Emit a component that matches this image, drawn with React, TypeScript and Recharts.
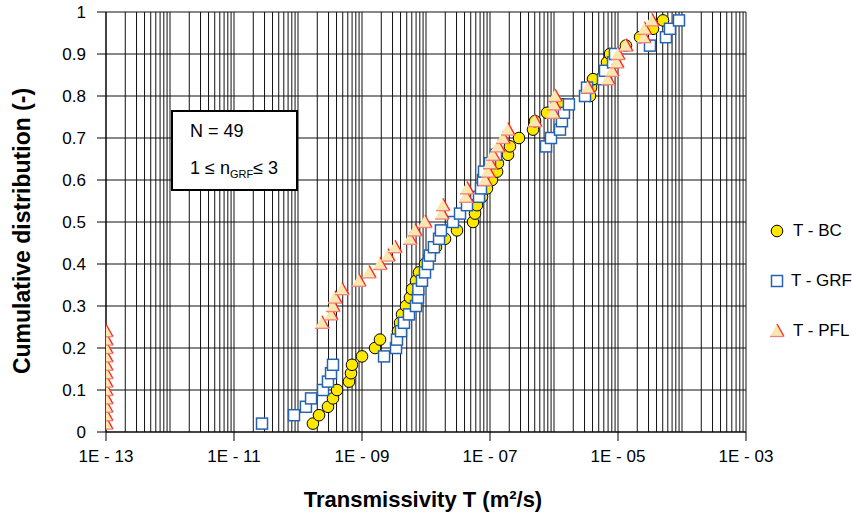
import React from "react";
import {
  CartesianGrid,
  Label,
  Legend,
  Scatter,
  ScatterChart,
  XAxis,
  YAxis,
} from "recharts";

// cumulative fraction (rank / (N + 1)), N = 49
const cumFraction = [
  0.02, 0.04, 0.06, 0.08, 0.1, 0.12, 0.14, 0.16, 0.18, 0.2,
  0.22, 0.24, 0.26, 0.28, 0.3, 0.32, 0.34, 0.36, 0.38, 0.4,
  0.42, 0.44, 0.46, 0.48, 0.5, 0.52, 0.54, 0.56, 0.58, 0.6,
  0.62, 0.64, 0.66, 0.68, 0.7, 0.72, 0.74, 0.76, 0.78, 0.8,
  0.82, 0.84, 0.86, 0.88, 0.9, 0.92, 0.94, 0.96, 0.98,
];

// transmissivity values (m2/s), sorted
const tBC = [
  1.71e-10, 2.13e-10, 2.94e-10, 3.52e-10, 4.07e-10, 6.26e-10, 6.73e-10, 6.98e-10, 1.0e-9, 1.6e-9,
  1.91e-9, 3.65e-9, 3.93e-9, 4.22e-9, 4.87e-9, 5.62e-9, 6.04e-9, 6.98e-9, 7.78e-9, 9.65e-9,
  1.15e-8, 1.43e-8, 1.98e-8, 3.05e-8, 5.42e-8, 5.83e-8, 6.26e-8, 7.5e-8, 8.97e-8, 1.07e-7,
  1.29e-7, 1.33e-7, 1.91e-7, 2.05e-7, 2.84e-7, 4.7e-7, 5.05e-7, 7.78e-7, 1.38e-6, 3.65e-6,
  3.79e-6, 4.07e-6, 6.26e-6, 6.73e-6, 7.5e-6, 1.33e-5, 2.21e-5, 3.52e-5, 5.05e-5,
];

const tGRF = [
  2.74e-11, 8.66e-11, 1.33e-10, 1.6e-10, 2.46e-10, 2.94e-10, 3.28e-10, 3.52e-10, 2.21e-9, 3.4e-9,
  3.52e-9, 4.07e-9, 4.53e-9, 5.42e-9, 6.98e-9, 7.5e-9, 7.6e-9, 8.66e-9, 9.65e-9, 1.07e-8,
  1.15e-8, 1.33e-8, 1.6e-8, 1.71e-8, 2.64e-8, 3.4e-8, 4.37e-8, 6.73e-8, 7.23e-8, 7.78e-8,
  8.06e-8, 1.0e-7, 1.24e-7, 7.5e-7, 8.97e-7, 1.24e-6, 1.33e-6, 1.43e-6, 1.71e-6, 3.05e-6,
  3.28e-6, 5.83e-6, 6.26e-6, 8.36e-6, 8.97e-6, 3.16e-5, 5.62e-5, 6.49e-5, 8.97e-5,
];

const tPFL = [
  1e-13, 1e-13, 1e-13, 1e-13, 1e-13, 1e-13, 1e-13, 1e-13, 1e-13, 1e-13,
  1e-13, 1e-13, 2.37e-10, 3.28e-10, 3.52e-10, 3.79e-10, 4.87e-10, 8.97e-10, 1.29e-9, 1.91e-9,
  2.55e-9, 3.28e-9, 5.62e-9, 6.73e-9, 9.65e-9, 1.78e-8, 1.84e-8, 4.22e-8, 4.37e-8, 8.36e-8,
  9.31e-8, 1.0e-7, 1.11e-7, 1.33e-7, 1.6e-7, 1.91e-7, 5.05e-7, 9.65e-7, 1.0e-6, 1.04e-6,
  3.4e-6, 6.98e-6, 8.06e-6, 9.65e-6, 1.0e-5, 1.33e-5, 2.55e-5, 2.6e-5, 3.4e-5,
];

const xLabelTicks = [1e-13, 1e-11, 1e-9, 1e-7, 1e-5, 1e-3];
const yTicks = [0, 0.1, 0.2, 0.3, 0.4, 0.5, 0.6, 0.7, 0.8, 0.9, 1];

// log grid: 1..9 x 10^n
const gridDecades = [-13, -12, -11, -10, -9, -8, -7, -6, -5, -4];
const gridMantissas = [1, 2, 3, 4, 5, 6, 7, 8, 9];
const xGridValues = [
  ...gridDecades.flatMap((d) => gridMantissas.map((m) => Number(`${m}e${d}`))),
  1e-3,
];

const toPoints = (values: number[]) =>
  values.map((t, i) => ({ t, p: cumFraction[i] }));

const FONT = '"Liberation Sans", Arial, sans-serif';

const CircleMark = ({ cx, cy }: any) => (
  <circle cx={cx} cy={cy} r={5.8} fill="#FFE800" stroke="#000" strokeWidth={1} />
);

const SquareMark = ({ cx, cy }: any) => (
  <rect
    x={cx - 5.5}
    y={cy - 5.5}
    width={11}
    height={11}
    fill="#fff"
    stroke="#2463B0"
    strokeWidth={1.5}
  />
);

const TriangleMark = ({ cx, cy }: any) => (
  <g>
    <path
      d={`M${cx},${cy - 7} L${cx + 7},${cy + 5.5} L${cx - 7},${cy + 5.5} Z`}
      fill="#FAE7B0"
    />
    <path
      d={`M${cx},${cy - 7} L${cx + 7},${cy + 5.5}`}
      fill="none"
      stroke="#FF2020"
      strokeWidth={1.3}
    />
    <path
      d={`M${cx + 7},${cy + 5.5} L${cx - 7},${cy + 5.5}`}
      fill="none"
      stroke="#F28080"
      strokeWidth={1.3}
    />
  </g>
);

const legendItems = [
  { name: "T - BC", Mark: CircleMark },
  { name: "T - GRF", Mark: SquareMark },
  { name: "T - PFL", Mark: TriangleMark },
];

const renderLegend = () => (
  <div style={{ fontFamily: FONT }}>
    {legendItems.map(({ name, Mark }) => (
      <div
        key={name}
        style={{ display: "flex", alignItems: "center", height: 50, whiteSpace: "nowrap" }}
      >
        <svg width={20} height={20}>
          <Mark cx={10} cy={10} />
        </svg>
        <span style={{ marginLeft: 6, fontSize: 17, color: "#000" }}>
          {name}
        </span>
      </div>
    ))}
  </div>
);

const formatX = (v: number) => {
  const e = Math.round(Math.log10(v));
  return `1E - ${String(Math.abs(e)).padStart(2, "0")}`;
};

const formatY = (v: number) => String(Number(v.toFixed(1)));

const YTitle = ({ viewBox }: any) => {
  const cx = 22;
  const cy = viewBox.y + viewBox.height / 2 + 9;
  return (
    <text
      x={cx}
      y={cy}
      transform={`rotate(-90, ${cx}, ${cy})`}
      textAnchor="middle"
      dominantBaseline="central"
      fontFamily={FONT}
      fontWeight="bold"
      fontSize={23}
      fill="#000"
    >
      Cumulative distribution (-)
    </text>
  );
};

const XTitle = ({ viewBox }: any) => (
  <text
    x={viewBox.x + viewBox.width / 2 - 3}
    y={507}
    textAnchor="middle"
    fontFamily={FONT}
    fontWeight="bold"
    fontSize={22}
    fill="#000"
  >
    Transmissivity T (m²/s)
  </text>
);

export default function App() {
  return (
    <div
      style={{
        position: "absolute",
        left: 0,
        top: 0,
        width: 852,
        height: 515,
        background: "#fff",
        fontFamily: FONT,
      }}
    >
      <ScatterChart
        width={852}
        height={515}
        margin={{ top: 12, right: 106, bottom: 0, left: 0 }}
      >
        <CartesianGrid
          xAxisId="grid"
          stroke="#111"
          strokeWidth={1}
          horizontal={false}
        />
        <CartesianGrid stroke="#111" strokeWidth={1} vertical={false} />
        <XAxis
          xAxisId="grid"
          dataKey="t"
          type="number"
          scale="log"
          domain={[1e-13, 1e-3]}
          allowDataOverflow
          ticks={xGridValues}
          interval={0}
          hide
        />
        <XAxis
          dataKey="t"
          type="number"
          scale="log"
          domain={[1e-13, 1e-3]}
          allowDataOverflow
          ticks={xLabelTicks}
          interval={0}
          tickFormatter={formatX}
          height={83}
          tickSize={9}
          tickMargin={9}
          stroke="#000"
          tick={{ fill: "#000", fontSize: 17, fontFamily: FONT }}
        >
          <Label content={XTitle} />
        </XAxis>
        <YAxis
          dataKey="p"
          type="number"
          domain={[0, 1]}
          ticks={yTicks}
          interval={0}
          tickFormatter={formatY}
          width={106}
          tickSize={9}
          tickMargin={11}
          stroke="#000"
          tick={{ fill: "#000", fontSize: 17, fontFamily: FONT }}
        >
          <Label content={YTitle} />
        </YAxis>
        <Legend
          layout="vertical"
          align="center"
          verticalAlign="middle"
          content={renderLegend}
          wrapperStyle={{ left: 767, top: 206, width: 85 }}
        />
        <Scatter
          name="T-BC"
          data={toPoints(tBC)}
          shape={CircleMark}
          isAnimationActive={false}
        />
        <Scatter
          name="T-GRF"
          data={toPoints(tGRF)}
          shape={SquareMark}
          isAnimationActive={false}
        />
        <Scatter
          name="T-PFL"
          data={toPoints(tPFL)}
          shape={TriangleMark}
          isAnimationActive={false}
        />
      </ScatterChart>
      <div
        style={{
          position: "absolute",
          left: 171,
          top: 110,
          width: 123,
          height: 77,
          border: "2px solid #000",
          background: "#fff",
          fontSize: 18,
          color: "#000",
        }}
      >
        <div style={{ position: "absolute", left: 17, top: 9 }}>N = 49</div>
        <div style={{ position: "absolute", left: 17, top: 46, whiteSpace: "nowrap" }}>
          1 ≤ n
          <sub style={{ fontSize: 11, verticalAlign: "-4px" }}>GRF</sub>≤ 3
        </div>
      </div>
    </div>
  );
}
